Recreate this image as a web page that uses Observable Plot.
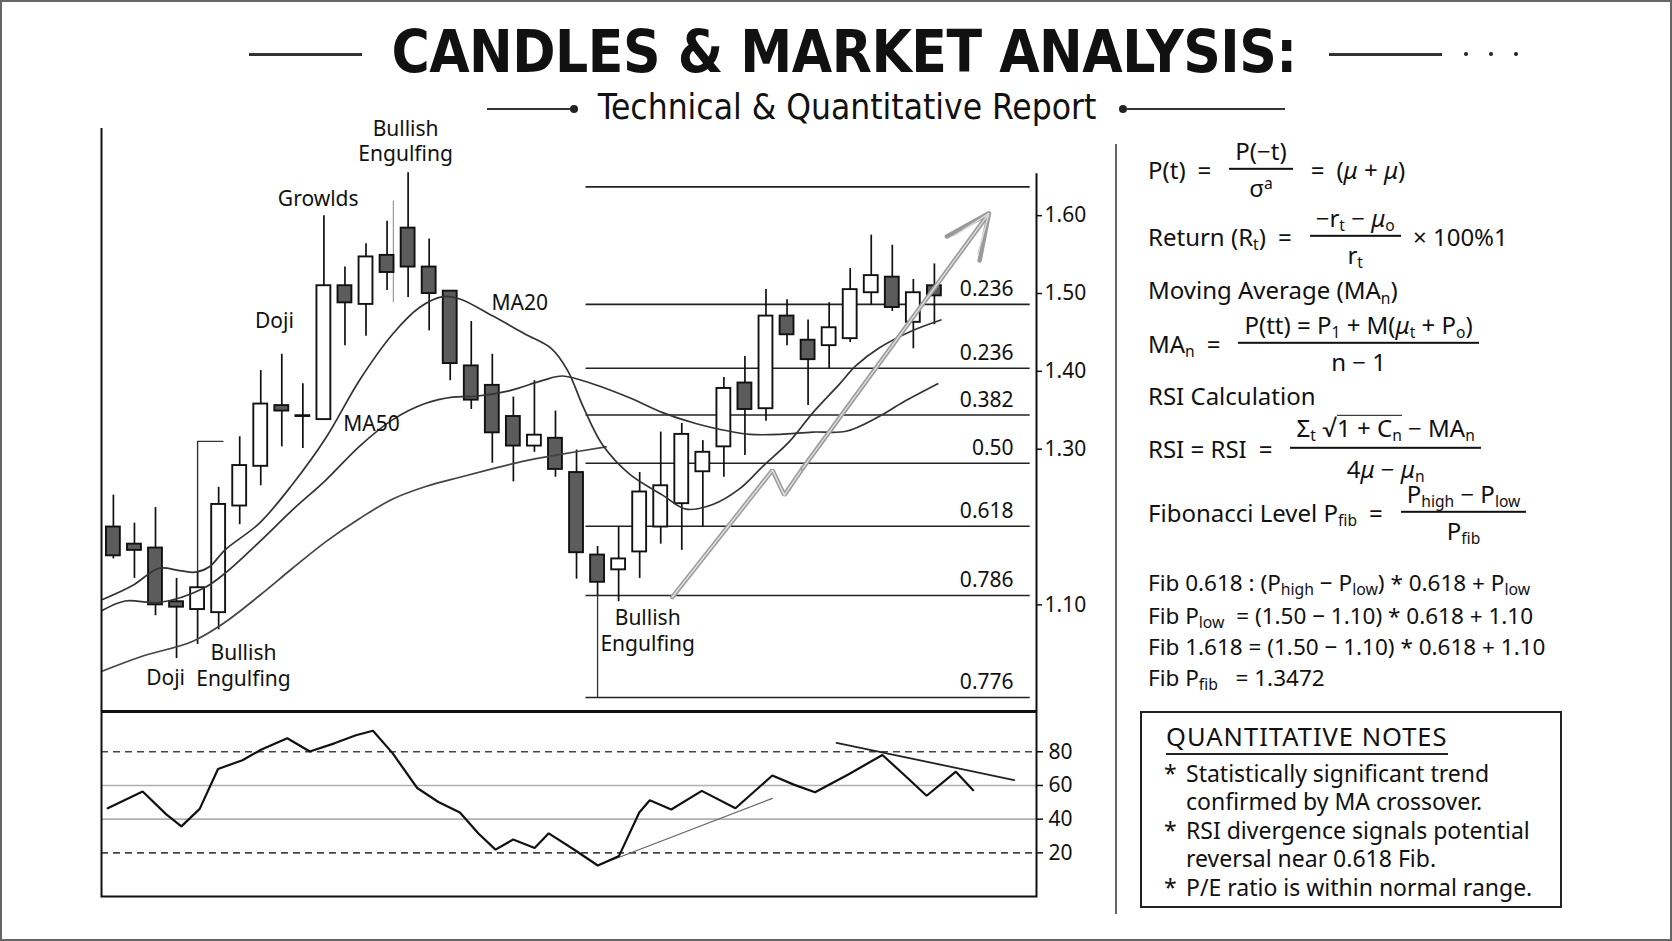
<!DOCTYPE html>
<html>
<head>
<meta charset="utf-8">
<script src="https://cdn.jsdelivr.net/npm/d3@7"></script>
<script src="https://cdn.jsdelivr.net/npm/@observablehq/plot@0.6"></script>
<style>
  html, body { margin: 0; padding: 0; background: #fff; }
  #page { position: relative; width: 1672px; height: 941px; box-sizing: border-box; border: 2px solid #666; overflow: hidden; background: #fff; color: #111; font-family: "Noto Sans", Lato, sans-serif; }
  #title { position: absolute; left: 0; width: 1684px; top: 18px; text-align: center; font-family: "DejaVu Sans Condensed", "DejaVu Sans", sans-serif; font-weight: bold; font-size: 58px; line-height: 64px; letter-spacing: -0.5px; }
  #subtitle { position: absolute; left: 0; width: 1690px; top: 85px; text-align: center; font-family: "DejaVu Sans Condensed", "DejaVu Sans", sans-serif; font-size: 35px; line-height: 40px; }
  .hline { position: absolute; height: 2.5px; background: #333; }
  .dot { position: absolute; width: 4px; height: 4px; border-radius: 2px; background: #222; }
  .cdot { position: absolute; width: 8px; height: 8px; border-radius: 4px; background: #222; }
  #sep { position: absolute; left: 1113px; top: 142px; width: 2px; height: 770px; background: #666; }
  .f { position: absolute; left: 1146px; transform: translateY(-50%); display: flex; align-items: center; font-size: 24px; white-space: nowrap; line-height: 1.05; }
  .frac { display: inline-flex; flex-direction: column; align-items: center; margin: 0 6px; }
  .frac > span:first-child { border-bottom: 2px solid #111; padding: 0 6px 5px; }
  .frac > span:last-child { padding-top: 5px; }
  .frac.tall > span:first-child { padding-bottom: 7px; }
  .frac.tall > span:last-child { padding-top: 7px; }
  .eq { margin: 0 12px; }
  .ov { display: inline-block; border-top: 1.5px solid #111; line-height: 0.95; padding-top: 1px; }
  sub, sup { font-size: 0.65em; line-height: 0; }
  sub { vertical-align: -0.3em; }
  sup { vertical-align: 0.5em; }
  .s { position: absolute; left: 1146px; transform: translateY(-50%); font-size: 22.5px; white-space: nowrap; line-height: 1; }
  .s sub { font-size: 0.7em; }
  #notes { position: absolute; left: 1138px; top: 709px; width: 422px; height: 197px; box-sizing: border-box; border: 2px solid #222; }
  #notesTitle { position: absolute; left: 24px; top: 7px; font-size: 25.5px; letter-spacing: 1px; border-bottom: 2px solid #222; padding-bottom: 1px; line-height: 32px; }
  .note { position: absolute; left: 44px; font-size: 23px; line-height: 27.5px; white-space: nowrap; }
  .note .b { position: absolute; left: -22px; }
  .plot { position: absolute; left: 0; }
</style>
</head>
<body>
<div id="page">
  <div class="hline" style="left:247px;top:51px;width:113px"></div>
  <div id="title">CANDLES &amp; MARKET ANALYSIS:</div>
  <div class="hline" style="left:1327px;top:51px;width:113px"></div>
  <div class="dot" style="left:1462px;top:50px"></div>
  <div class="dot" style="left:1487px;top:50px"></div>
  <div class="dot" style="left:1512px;top:50px"></div>

  <div class="hline" style="left:485px;top:106px;width:84px;height:2px"></div>
  <div class="cdot" style="left:568px;top:103px"></div>
  <div id="subtitle">Technical &amp; Quantitative Report</div>
  <div class="cdot" style="left:1117px;top:103px"></div>
  <div class="hline" style="left:1124px;top:106px;width:159px;height:2px"></div>

  <div id="sep"></div>

  <div class="f" style="top:167px"><span>P(t)</span><span class="eq">=</span><span class="frac"><span>P(−t)</span><span>σ<sup>a</sup></span></span><span class="eq">=</span><span>(<i>μ</i> + <i>μ</i>)</span></div>
  <div class="f" style="top:234px"><span>Return (R<sub>t</sub>)</span><span class="eq">=</span><span class="frac"><span>−r<sub>t</sub> − <i>μ</i><sub>o</sub></span><span>r<sub>t</sub></span></span><span>&nbsp;× 100%1</span></div>
  <div class="f" style="top:288px"><span>Moving Average (MA<sub>n</sub>)</span></div>
  <div class="f" style="top:341px"><span>MA<sub>n</sub></span><span class="eq">=</span><span class="frac"><span>P(tt) = P<sub>1</sub> + M(<i>μ</i><sub>t</sub> + P<sub>o</sub>)</span><span>n − 1</span></span></div>
  <div class="f" style="top:394px"><span>RSI Calculation</span></div>
  <div class="f" style="top:446px"><span>RSI = RSI</span><span class="eq">=</span><span class="frac tall"><span>Σ<sub>t</sub> √<span class="ov">1 + C<sub>n</sub></span> − MA<sub>n</sub></span><span>4<i>μ</i> − <i>μ</i><sub>n</sub></span></span></div>
  <div class="f" style="top:510px"><span>Fibonacci Level P<sub>fib</sub></span><span class="eq">=</span><span class="frac"><span>P<sub>high</sub> − P<sub>low</sub></span><span>P<sub>fib</sub></span></span></div>

  <div class="s" style="top:581px">Fib 0.618 : (P<sub>high</sub> − P<sub>low</sub>) * 0.618 + P<sub>low</sub></div>
  <div class="s" style="top:614px">Fib P<sub>low</sub> &nbsp;= (1.50 − 1.10) * 0.618 + 1.10</div>
  <div class="s" style="top:645px">Fib 1.618 = (1.50 − 1.10) * 0.618 + 1.10</div>
  <div class="s" style="top:676px">Fib P<sub>fib</sub> &nbsp;&nbsp;= 1.3472</div>

  <div id="notes">
    <div id="notesTitle">QUANTITATIVE NOTES</div>
    <div class="note" style="top:47px"><span class="b">*</span>Statistically significant trend<br>confirmed by MA crossover.</div>
    <div class="note" style="top:104px"><span class="b">*</span>RSI divergence signals potential<br>reversal near 0.618 Fib.</div>
    <div class="note" style="top:161px"><span class="b">*</span>P/E ratio is within normal range.</div>
  </div>

  <div id="pricePlot" class="plot" style="top:100px"></div>
  <div id="rsiPlot" class="plot" style="top:700px"></div>
</div>

<script>
// ---------- data ----------
const candleOpen  = [1.200,1.178,1.173,1.104,1.094,1.090,1.227,1.278,1.356,1.343,1.338,1.510,1.486,1.549,1.584,1.534,1.503,1.407,1.382,1.342,1.304,1.314,1.270,1.164,1.145,1.168,1.200,1.230,1.271,1.303,1.385,1.352,1.471,1.440,1.433,1.442,1.501,1.521,1.463,1.510];
const candleHigh  = [1.241,1.205,1.225,1.134,1.141,1.251,1.316,1.401,1.422,1.384,1.600,1.534,1.564,1.593,1.655,1.570,1.503,1.464,1.422,1.367,1.388,1.349,1.299,1.175,1.200,1.270,1.322,1.333,1.311,1.392,1.419,1.505,1.492,1.466,1.488,1.532,1.575,1.562,1.518,1.538];
const candleLow   = [1.159,1.134,1.086,1.031,1.049,1.068,1.203,1.253,1.303,1.301,1.338,1.433,1.445,1.504,1.495,1.452,1.388,1.351,1.282,1.258,1.296,1.264,1.133,1.112,1.104,1.134,1.178,1.170,1.200,1.264,1.292,1.336,1.433,1.356,1.403,1.437,1.485,1.477,1.429,1.460];
const candleClose = [1.163,1.170,1.100,1.097,1.122,1.229,1.279,1.358,1.349,1.342,1.510,1.488,1.547,1.527,1.534,1.500,1.410,1.363,1.321,1.304,1.318,1.274,1.167,1.129,1.159,1.245,1.253,1.319,1.296,1.378,1.351,1.471,1.447,1.415,1.456,1.505,1.523,1.482,1.501,1.497];

const ma20Day   = [-0.51,0.91,2.18,3.14,3.90,4.56,5.32,6.94,8.51,10.08,11.70,13.27,14.54,15.65,16.46,18.03,19.55,20.82,21.58,22.34,23.25,24.52,26.09,27.20,28.47,29.74,30.85,32.12,33.23,34.50,35.26,36.37,37.84,39.31];
const ma20Price = [1.107,1.125,1.147,1.144,1.142,1.149,1.171,1.205,1.255,1.314,1.389,1.448,1.482,1.496,1.493,1.471,1.448,1.429,1.401,1.353,1.305,1.268,1.241,1.223,1.229,1.249,1.278,1.310,1.347,1.384,1.407,1.430,1.451,1.466];

const ma50Day   = [-0.51,0.56,2.18,4.26,5.32,6.94,8.51,10.08,11.70,13.27,14.84,16.11,17.22,18.79,20.36,21.33,22.75,24.52,26.09,27.66,29.28,30.24,31.66,33.23,34.80,36.37,37.49,39.16];
const ma50Price = [1.093,1.105,1.103,1.121,1.141,1.181,1.222,1.260,1.304,1.338,1.359,1.367,1.368,1.375,1.388,1.394,1.384,1.366,1.347,1.333,1.323,1.319,1.319,1.322,1.323,1.342,1.360,1.384];

const maSlowDay   = [-0.51,1.37,3.75,5.32,6.94,8.51,10.08,11.70,13.27,14.84,16.46,18.03,19.55,21.17,23.40];
const maSlowPrice = [1.015,1.034,1.053,1.078,1.112,1.147,1.181,1.211,1.236,1.252,1.264,1.275,1.285,1.293,1.303];

const fibLevels = [1.637,1.486,1.404,1.344,1.282,1.201,1.112,0.981];
const fibLabels = ["","0.236","0.236","0.382","0.50","0.618","0.786","0.776"];
const fibStartDay = 22.45, fibEndDay = 43.55, fibLabelDay = 42.76;

const priceTicks = [1.60,1.50,1.40,1.30,1.10];

const trendDay   = [26.55,31.31,31.87,32.73];
const trendPrice = [1.110,1.273,1.241,1.275];
const arrowFrom = {day: 32.73, price: 1.275};
const arrowTo   = {day: 41.59, price: 1.603};

const annoText  = ["Bullish\nEngulfing","Growlds","Doji","MA20","MA50","Doji","Bullish\nEngulfing","Bullish\nEngulfing"];
const annoDay   = [13.88, 9.73, 7.65, 19.30, 12.26, 2.48, 6.18, 25.38];
const annoPrice = [1.697, 1.623, 1.466, 1.490, 1.334, 1.008, 1.023, 1.068];

const bracketDay   = [5.2, 4.0, 4.0];
const bracketPrice = [1.310, 1.310, 1.141];
const anchorDay = 23, anchorTop = 1.112, anchorBottom = 0.981;
const ghostDay = 13.3, ghostTop = 1.619, ghostBottom = 1.488;

const rsiDay   = [-0.27,1.39,2.50,3.23,4.10,4.97,6.13,7.01,8.26,9.33,10.50,11.52,12.33,13.26,14.43,15.44,16.46,17.33,18.15,18.99,20.01,20.68,21.84,23.01,24.02,24.98,25.48,26.50,27.95,29.55,31.30,32.32,33.33,34.93,36.53,37.70,38.63,40.02,40.84];
const rsiValue = [46.5,56.4,43.0,35.7,46.1,69.8,75.0,81.2,88.0,80.2,85.0,89.8,92.5,79.2,58.5,50.2,44.0,31.6,21.9,27.9,22.9,31.6,22.3,12.5,18.2,44.0,51.2,45.7,56.8,46.5,65.9,60.5,56.0,66.7,78.1,64.7,53.9,68.2,57.2];
const rsiTicks = [80,60,40,20];
const rsiBands = [80,20];
const rsiMids = [60,40];
const rsiSupport = [{day: 23.01, v: 12.5}, {day: 31.3, v: 52.3}];
const rsiResist  = [{day: 34.35, v: 85.3}, {day: 42.79, v: 63.2}];

// ---------- scales ----------
const xDomain = [-0.565, 43.85];
const priceDomain = [0.963, 1.712];
const rsiDomain = [-5.9, 103.9];

const candles = candleOpen.map((o, i) => ({day: i, open: o, high: candleHigh[i], low: candleLow[i], close: candleClose[i]}));
const ma20 = ma20Day.map((d, i) => ({day: d, price: ma20Price[i]}));
const ma50 = ma50Day.map((d, i) => ({day: d, price: ma50Price[i]}));
const maSlow = maSlowDay.map((d, i) => ({day: d, price: maSlowPrice[i]}));
const fibs = fibLevels.map((p, i) => ({price: p, label: fibLabels[i]}));
const trend = trendDay.map((d, i) => ({day: d, price: trendPrice[i]}));
const annos = annoText.map((t, i) => ({text: t, day: annoDay[i], price: annoPrice[i]}));
const bracket = bracketDay.map((d, i) => ({day: d, price: bracketPrice[i]}));
const rsi = rsiDay.map((d, i) => ({day: d, v: rsiValue[i]}));
const arrowSeg = [{a: arrowFrom, b: arrowTo}];

const baseStyle = {background: "transparent", fontFamily: "'Noto Sans', Lato, sans-serif", fontSize: "21px", color: "#111", overflow: "visible"};

const pricePlot = Plot.plot({
  width: 1110, height: 612,
  marginTop: 26, marginBottom: 3, marginLeft: 99, marginRight: 76,
  x: {domain: xDomain, axis: null},
  y: {domain: priceDomain, axis: null},
  style: baseStyle,
  marks: [
    Plot.ruleY(fibs, {y: "price", x1: fibStartDay, x2: fibEndDay, stroke: "#222", strokeWidth: 1.6}),
    Plot.text(fibs, {x: fibLabelDay, y: "price", text: "label", dy: -15, textAnchor: "end", fontSize: 21, fill: "#111"}),
    Plot.ruleX([anchorDay], {y1: anchorTop, y2: anchorBottom, stroke: "#333", strokeWidth: 1.3}),
    Plot.ruleX([ghostDay], {y1: ghostBottom, y2: ghostTop, stroke: "#999", strokeWidth: 1.2}),
    Plot.line(bracket, {x: "day", y: "price", stroke: "#333", strokeWidth: 1.4}),
    Plot.ruleX(candles, {x: "day", y1: "low", y2: "high", stroke: "#111", strokeWidth: 1.7}),
    Plot.rect(candles, {
      x1: d => d.day - 0.33, x2: d => d.day + 0.33,
      y1: "open", y2: "close",
      fill: d => d.close < d.open ? "#5c5c5c" : "#ffffff",
      stroke: "#111", strokeWidth: 1.9
    }),
    Plot.line(maSlow, {x: "day", y: "price", stroke: "#444", strokeWidth: 1.7, curve: "catmull-rom"}),
    Plot.line(ma50, {x: "day", y: "price", stroke: "#333", strokeWidth: 1.7, curve: "catmull-rom"}),
    Plot.line(ma20, {x: "day", y: "price", stroke: "#333", strokeWidth: 1.7, curve: "catmull-rom"}),
    Plot.line(trend, {x: "day", y: "price", stroke: "#9c9c9c", strokeWidth: 4.5, strokeLinejoin: "miter"}),
    Plot.line(trend, {x: "day", y: "price", stroke: "#dedede", strokeWidth: 1.5}),
    Plot.arrow(arrowSeg, {x1: d => d.a.day, y1: d => d.a.price, x2: d => d.b.day, y2: d => d.b.price, stroke: "#9a9a9a", strokeWidth: 4.5, headLength: 16, headAngle: 50}),
    Plot.arrow(arrowSeg, {x1: d => d.a.day, y1: d => d.a.price, x2: d => d.b.day, y2: d => d.b.price, stroke: "#dadada", strokeWidth: 1.5, headLength: 42, headAngle: 42}),
    Plot.text(annos, {x: "day", y: "price", text: "text", fontSize: 21, lineHeight: 1.22, fill: "#111"}),
    Plot.ruleX([xDomain[0]], {y1: priceDomain[0], y2: priceDomain[1], stroke: "#111", strokeWidth: 2}),
    Plot.ruleX([xDomain[1]], {y1: priceDomain[0], y2: 1.654, stroke: "#111", strokeWidth: 2}),
    Plot.axisY({anchor: "right", label: null, ticks: priceTicks, tickFormat: d => d.toFixed(2), tickSize: 5, tickPadding: 3, fontSize: 21, stroke: "#111", strokeWidth: 1.5})
  ]
});
document.getElementById("pricePlot").appendChild(pricePlot);

const rsiPlot = Plot.plot({
  width: 1110, height: 200,
  marginTop: 9, marginBottom: 6, marginLeft: 99, marginRight: 76,
  x: {domain: xDomain, axis: null},
  y: {domain: rsiDomain, axis: null},
  style: baseStyle,
  marks: [
    Plot.ruleY(rsiBands, {stroke: "#444", strokeWidth: 1.6, strokeDasharray: "7,5"}),
    Plot.ruleY(rsiMids, {stroke: "#b0b0b0", strokeWidth: 1.6}),
    Plot.line(rsiSupport, {x: "day", y: "v", stroke: "#666", strokeWidth: 1.3}),
    Plot.line(rsiResist, {x: "day", y: "v", stroke: "#222", strokeWidth: 1.8}),
    Plot.line(rsi, {x: "day", y: "v", stroke: "#111", strokeWidth: 2.2, strokeLinejoin: "miter"}),
    Plot.frame({stroke: "#111", strokeWidth: 2}),
    Plot.ruleY([rsiDomain[1]], {stroke: "#111", strokeWidth: 3}),
    Plot.axisY({anchor: "right", label: null, ticks: rsiTicks, tickSize: 6, tickPadding: 6, fontSize: 21, stroke: "#111", strokeWidth: 1.5})
  ]
});
document.getElementById("rsiPlot").appendChild(rsiPlot);
</script>
</body>
</html>
